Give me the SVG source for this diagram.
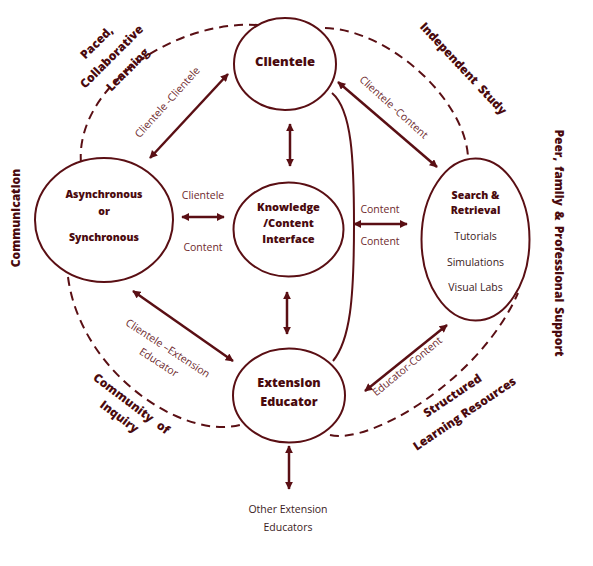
<svg xmlns="http://www.w3.org/2000/svg" width="593" height="566" viewBox="0 0 593 566">
<style>
.node{fill:#fff;stroke:#5a0f14;stroke-width:2}
.conn{fill:none;stroke:#5a0f14;stroke-width:2.5}
.dash{fill:none;stroke:#5a0f14;stroke-width:2;stroke-dasharray:9 6}
.curve{fill:none;stroke:#5a0f14;stroke-width:2}
.b{font-family:"Open Sans","DejaVu Sans",sans-serif;font-weight:800;fill:#4a0a0e;text-anchor:middle}
.r{font-family:"Open Sans","DejaVu Sans",sans-serif;fill:#3a1a1c;text-anchor:middle;font-size:10.5px}
.lbl{font-family:"Open Sans","DejaVu Sans",sans-serif;fill:#6e2a2e;text-anchor:middle;font-size:10.5px}
.outer{font-family:"Open Sans","DejaVu Sans",sans-serif;font-weight:800;fill:#4a0a0e;text-anchor:middle;font-size:12px}
</style>
<defs>
<marker id="ah" viewBox="0 0 10 10" refX="9" refY="5" markerWidth="3.4" markerHeight="3.2" orient="auto-start-reverse" markerUnits="strokeWidth">
<path d="M0,0 L10,5 L0,10 z" fill="#5a0f14"/>
</marker>
</defs>

<g id="connectors">
<path class="dash" d="M81,163 C75,90 170,20 258,25"/>
<path class="dash" d="M325,28 C390,30 465,100 468,157"/>
<path class="dash" d="M68,277 C80,370 180,440 240,425"/>
<path class="dash" d="M330,435 C370,445 480,380 518,293"/>
<path class="curve" d="M332,93 C352,110 354,160 354,225 C354,300 350,340 333,361"/>
<line class="conn" x1="290" y1="124" x2="290" y2="166" marker-start="url(#ah)" marker-end="url(#ah)"/>
<line class="conn" x1="287" y1="292" x2="287" y2="334" marker-start="url(#ah)" marker-end="url(#ah)"/>
<line class="conn" x1="289" y1="446" x2="289" y2="489" marker-start="url(#ah)" marker-end="url(#ah)"/>
<line class="conn" x1="182" y1="217" x2="224" y2="217" marker-start="url(#ah)" marker-end="url(#ah)"/>
<line class="conn" x1="354" y1="224" x2="407" y2="224" marker-start="url(#ah)" marker-end="url(#ah)"/>
<line class="conn" x1="150" y1="158" x2="228" y2="74" marker-start="url(#ah)" marker-end="url(#ah)"/>
<line class="conn" x1="338" y1="82" x2="437" y2="167" marker-start="url(#ah)" marker-end="url(#ah)"/>
<line class="conn" x1="133" y1="291" x2="233" y2="361" marker-start="url(#ah)" marker-end="url(#ah)"/>
<line class="conn" x1="365" y1="391" x2="447" y2="325" marker-start="url(#ah)" marker-end="url(#ah)"/>
<text class="lbl" x="203" y="199">Clientele</text>
<text class="lbl" x="203" y="251">Content</text>
<text class="lbl" x="380" y="213">Content</text>
<text class="lbl" x="380" y="245">Content</text>
<text class="lbl" transform="translate(167,102) rotate(-48)" y="4">Clientele -Clientele</text>
<text class="lbl" transform="translate(394,107) rotate(42)" y="4">Clientele -Content</text>
<text class="lbl" transform="translate(168,348) rotate(33)" y="4">Clientele –Extension</text>
<text class="lbl" transform="translate(159,362) rotate(33)" y="4">Educator</text>
<text class="lbl" transform="translate(407,366) rotate(-39.5)" y="4">Educator-Content</text>
</g>

<g id="clientele">
<ellipse class="node" cx="285" cy="64" rx="51" ry="46"/>
<text class="b" x="285" y="66" font-size="13">Clientele</text>
</g>

<g id="async">
<ellipse class="node" cx="104" cy="220" rx="69" ry="62"/>
<text class="b" x="104" y="198" font-size="10.5">Asynchronous</text>
<text class="b" x="104" y="215" font-size="10.5">or</text>
<text class="b" x="104" y="241" font-size="10.5">Synchronous</text>
</g>

<g id="knowledge">
<ellipse class="node" cx="288.5" cy="229.5" rx="55" ry="47"/>
<text class="b" x="288.5" y="211" font-size="11">Knowledge</text>
<text class="b" x="288.5" y="227" font-size="11">/Content</text>
<text class="b" x="288.5" y="243" font-size="11">Interface</text>
</g>

<g id="search">
<ellipse class="node" cx="475.5" cy="239.5" rx="54" ry="81"/>
<text class="b" x="475.5" y="199" font-size="10.5">Search &amp;</text>
<text class="b" x="475.5" y="214" font-size="10.5">Retrieval</text>
<text class="r" x="475.5" y="240" font-size="10">Tutorials</text>
<text class="r" x="475.5" y="266" font-size="10">Simulations</text>
<text class="r" x="475.5" y="291" font-size="10">Visual Labs</text>
</g>

<g id="extension">
<ellipse class="node" cx="289" cy="395.5" rx="56" ry="47"/>
<text class="b" x="289" y="387" font-size="12.5">Extension</text>
<text class="b" x="289" y="406" font-size="12.5">Educator</text>
</g>

<g id="other">
<text class="r" x="288" y="513">Other Extension</text>
<text class="r" x="288" y="531">Educators</text>
</g>

<g id="outer-labels">
<text class="outer" transform="translate(96,42) rotate(-45)" y="5">Paced,</text>
<text class="outer" transform="translate(111,56) rotate(-45)" y="5">Collaborative</text>
<text class="outer" transform="translate(127,69) rotate(-45)" y="5">Learning</text>
<text class="outer" transform="translate(464,68) rotate(47)" y="5" word-spacing="3">Independent Study</text>
<text class="outer" transform="translate(560,243) rotate(90)" y="5" word-spacing="2">Peer, family &amp; Professional Support</text>
<text class="outer" transform="translate(15,218) rotate(-90)" y="5">Communication</text>
<text class="outer" transform="translate(132,403) rotate(37)" y="5" word-spacing="4">Community of</text>
<text class="outer" transform="translate(120,416) rotate(37)" y="5">Inquiry</text>
<text class="outer" transform="translate(452,395) rotate(-34)" y="5">Structured</text>
<text class="outer" transform="translate(464,413) rotate(-34)" y="5">Learning Resources</text>
</g>
</svg>
